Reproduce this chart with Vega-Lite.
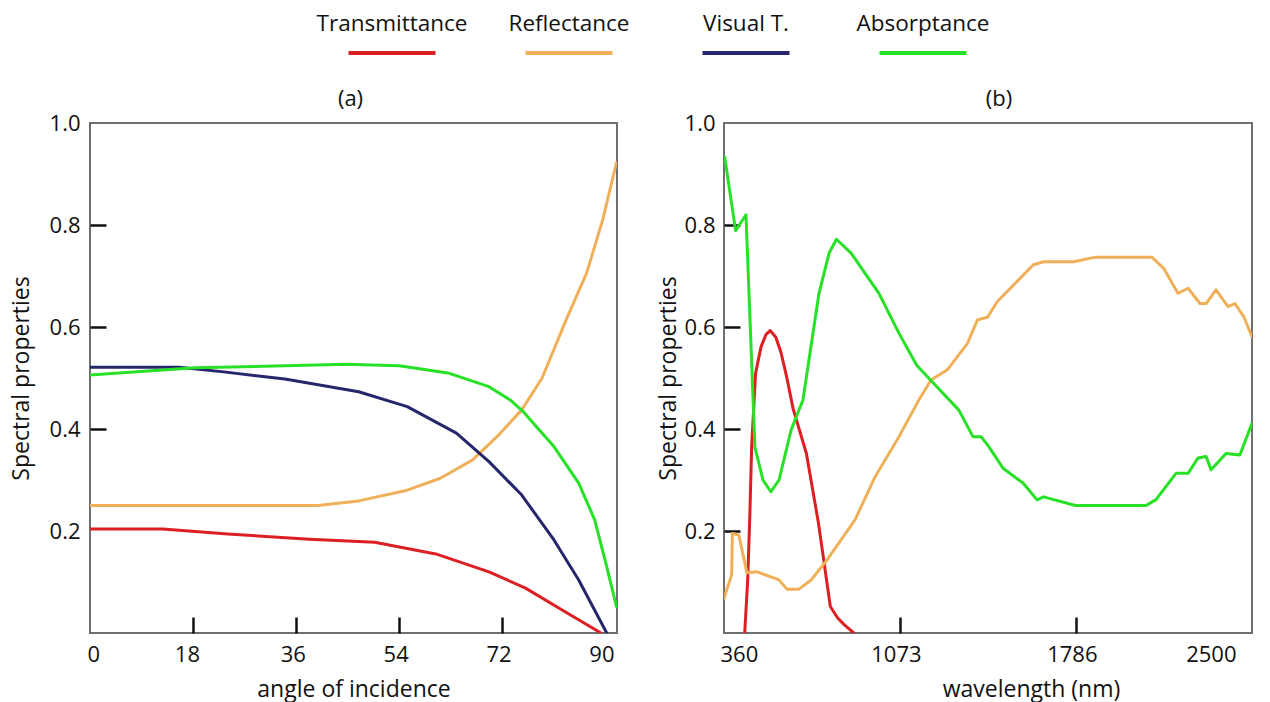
{
  "$schema": "https://vega.github.io/schema/vega-lite/v6.json",
  "background": "white",
  "padding": {"left": 9, "top": 5, "right": 0, "bottom": 0},
  "config": {
    "font": "Open Sans",
    "view": {"stroke": "#6f6f6f", "strokeWidth": 2},
    "axis": {
      "domain": false,
      "grid": false,
      "zindex": 1,
      "labelFont": "Open Sans",
      "labelFontSize": 22,
      "labelColor": "#111111",
      "titleFont": "Open Sans",
      "titleFontSize": 23,
      "titleFontWeight": "normal",
      "titleColor": "#111111"
    },
    "title": {"font": "Open Sans", "fontSize": 22, "fontWeight": "normal", "color": "#111111"},
    "line": {"strokeWidth": 3, "strokeJoin": "round", "strokeCap": "round"}
  },
  "datasets": {
    "series": [
      {"series": "Transmittance"},
      {"series": "Reflectance"},
      {"series": "Visual T."},
      {"series": "Absorptance"}
    ],
    "angle": [
      {"series": "Transmittance", "angle": 0, "value": 0.204},
      {"series": "Transmittance", "angle": 12.7, "value": 0.204},
      {"series": "Transmittance", "angle": 24.1, "value": 0.194},
      {"series": "Transmittance", "angle": 38.4, "value": 0.184},
      {"series": "Transmittance", "angle": 49.8, "value": 0.178},
      {"series": "Transmittance", "angle": 60.5, "value": 0.155},
      {"series": "Transmittance", "angle": 69.8, "value": 0.12},
      {"series": "Transmittance", "angle": 76.2, "value": 0.088},
      {"series": "Transmittance", "angle": 82.6, "value": 0.045},
      {"series": "Transmittance", "angle": 89.4, "value": 0.0},
      {"series": "Reflectance", "angle": 0, "value": 0.25},
      {"series": "Reflectance", "angle": 39.8, "value": 0.25},
      {"series": "Reflectance", "angle": 47, "value": 0.259},
      {"series": "Reflectance", "angle": 55.5, "value": 0.28},
      {"series": "Reflectance", "angle": 61.2, "value": 0.303},
      {"series": "Reflectance", "angle": 66.9, "value": 0.339},
      {"series": "Reflectance", "angle": 71.2, "value": 0.385},
      {"series": "Reflectance", "angle": 75.5, "value": 0.437},
      {"series": "Reflectance", "angle": 79.1, "value": 0.5},
      {"series": "Reflectance", "angle": 83.3, "value": 0.614},
      {"series": "Reflectance", "angle": 86.9, "value": 0.706},
      {"series": "Reflectance", "angle": 89.7, "value": 0.81},
      {"series": "Reflectance", "angle": 92.1, "value": 0.922},
      {"series": "Visual T.", "angle": 0, "value": 0.521},
      {"series": "Visual T.", "angle": 15.6, "value": 0.521},
      {"series": "Visual T.", "angle": 23.4, "value": 0.512},
      {"series": "Visual T.", "angle": 34.1, "value": 0.498},
      {"series": "Visual T.", "angle": 47, "value": 0.473},
      {"series": "Visual T.", "angle": 55.5, "value": 0.444},
      {"series": "Visual T.", "angle": 64.1, "value": 0.392},
      {"series": "Visual T.", "angle": 69.8, "value": 0.336},
      {"series": "Visual T.", "angle": 75.5, "value": 0.271},
      {"series": "Visual T.", "angle": 81.2, "value": 0.182},
      {"series": "Visual T.", "angle": 85.5, "value": 0.104},
      {"series": "Visual T.", "angle": 90.4, "value": 0.0},
      {"series": "Absorptance", "angle": 0, "value": 0.506},
      {"series": "Absorptance", "angle": 18.4, "value": 0.52},
      {"series": "Absorptance", "angle": 34.1, "value": 0.524},
      {"series": "Absorptance", "angle": 44.8, "value": 0.527},
      {"series": "Absorptance", "angle": 54.1, "value": 0.524},
      {"series": "Absorptance", "angle": 62.6, "value": 0.51},
      {"series": "Absorptance", "angle": 69.8, "value": 0.483},
      {"series": "Absorptance", "angle": 73.5, "value": 0.457},
      {"series": "Absorptance", "angle": 75.8, "value": 0.434},
      {"series": "Absorptance", "angle": 81.2, "value": 0.365},
      {"series": "Absorptance", "angle": 85.5, "value": 0.294},
      {"series": "Absorptance", "angle": 88.3, "value": 0.222},
      {"series": "Absorptance", "angle": 90.4, "value": 0.13},
      {"series": "Absorptance", "angle": 92.1, "value": 0.052}
    ],
    "wavelength": [
      {"series": "Transmittance", "wavelength": 444, "value": 0.0},
      {"series": "Transmittance", "wavelength": 456, "value": 0.104},
      {"series": "Transmittance", "wavelength": 465, "value": 0.235},
      {"series": "Transmittance", "wavelength": 472, "value": 0.365},
      {"series": "Transmittance", "wavelength": 488, "value": 0.509},
      {"series": "Transmittance", "wavelength": 510, "value": 0.561},
      {"series": "Transmittance", "wavelength": 530, "value": 0.585},
      {"series": "Transmittance", "wavelength": 547, "value": 0.593},
      {"series": "Transmittance", "wavelength": 570, "value": 0.58},
      {"series": "Transmittance", "wavelength": 591, "value": 0.55},
      {"series": "Transmittance", "wavelength": 615, "value": 0.5},
      {"series": "Transmittance", "wavelength": 640, "value": 0.44},
      {"series": "Transmittance", "wavelength": 694, "value": 0.352},
      {"series": "Transmittance", "wavelength": 743, "value": 0.215},
      {"series": "Transmittance", "wavelength": 791, "value": 0.052},
      {"series": "Transmittance", "wavelength": 820, "value": 0.03},
      {"series": "Transmittance", "wavelength": 848, "value": 0.016},
      {"series": "Transmittance", "wavelength": 886, "value": 0.0},
      {"series": "Reflectance", "wavelength": 360, "value": 0.068},
      {"series": "Reflectance", "wavelength": 391, "value": 0.114},
      {"series": "Reflectance", "wavelength": 394, "value": 0.195},
      {"series": "Reflectance", "wavelength": 420, "value": 0.192},
      {"series": "Reflectance", "wavelength": 453, "value": 0.118},
      {"series": "Reflectance", "wavelength": 494, "value": 0.12},
      {"series": "Reflectance", "wavelength": 583, "value": 0.104},
      {"series": "Reflectance", "wavelength": 615, "value": 0.086},
      {"series": "Reflectance", "wavelength": 664, "value": 0.086},
      {"series": "Reflectance", "wavelength": 713, "value": 0.104},
      {"series": "Reflectance", "wavelength": 777, "value": 0.143},
      {"series": "Reflectance", "wavelength": 891, "value": 0.222},
      {"series": "Reflectance", "wavelength": 972, "value": 0.306},
      {"series": "Reflectance", "wavelength": 1069, "value": 0.385},
      {"series": "Reflectance", "wavelength": 1150, "value": 0.457},
      {"series": "Reflectance", "wavelength": 1199, "value": 0.496},
      {"series": "Reflectance", "wavelength": 1265, "value": 0.516},
      {"series": "Reflectance", "wavelength": 1347, "value": 0.568},
      {"series": "Reflectance", "wavelength": 1387, "value": 0.614},
      {"series": "Reflectance", "wavelength": 1428, "value": 0.619},
      {"series": "Reflectance", "wavelength": 1468, "value": 0.65},
      {"series": "Reflectance", "wavelength": 1541, "value": 0.686},
      {"series": "Reflectance", "wavelength": 1614, "value": 0.722},
      {"series": "Reflectance", "wavelength": 1655, "value": 0.728},
      {"series": "Reflectance", "wavelength": 1777, "value": 0.728},
      {"series": "Reflectance", "wavelength": 1866, "value": 0.737},
      {"series": "Reflectance", "wavelength": 2094, "value": 0.737},
      {"series": "Reflectance", "wavelength": 2142, "value": 0.715},
      {"series": "Reflectance", "wavelength": 2200, "value": 0.666},
      {"series": "Reflectance", "wavelength": 2241, "value": 0.676},
      {"series": "Reflectance", "wavelength": 2289, "value": 0.646},
      {"series": "Reflectance", "wavelength": 2314, "value": 0.646},
      {"series": "Reflectance", "wavelength": 2354, "value": 0.673},
      {"series": "Reflectance", "wavelength": 2403, "value": 0.64},
      {"series": "Reflectance", "wavelength": 2431, "value": 0.646},
      {"series": "Reflectance", "wavelength": 2467, "value": 0.62},
      {"series": "Reflectance", "wavelength": 2500, "value": 0.581},
      {"series": "Absorptance", "wavelength": 363, "value": 0.933},
      {"series": "Absorptance", "wavelength": 407, "value": 0.789},
      {"series": "Absorptance", "wavelength": 449, "value": 0.82},
      {"series": "Absorptance", "wavelength": 478, "value": 0.457},
      {"series": "Absorptance", "wavelength": 485, "value": 0.365},
      {"series": "Absorptance", "wavelength": 518, "value": 0.3},
      {"series": "Absorptance", "wavelength": 550, "value": 0.277},
      {"series": "Absorptance", "wavelength": 583, "value": 0.3},
      {"series": "Absorptance", "wavelength": 632, "value": 0.398},
      {"series": "Absorptance", "wavelength": 680, "value": 0.457},
      {"series": "Absorptance", "wavelength": 745, "value": 0.666},
      {"series": "Absorptance", "wavelength": 786, "value": 0.745},
      {"series": "Absorptance", "wavelength": 816, "value": 0.772},
      {"series": "Absorptance", "wavelength": 875, "value": 0.745},
      {"series": "Absorptance", "wavelength": 988, "value": 0.666},
      {"series": "Absorptance", "wavelength": 1069, "value": 0.588},
      {"series": "Absorptance", "wavelength": 1141, "value": 0.525},
      {"series": "Absorptance", "wavelength": 1197, "value": 0.496},
      {"series": "Absorptance", "wavelength": 1312, "value": 0.437},
      {"series": "Absorptance", "wavelength": 1369, "value": 0.385},
      {"series": "Absorptance", "wavelength": 1402, "value": 0.385},
      {"series": "Absorptance", "wavelength": 1434, "value": 0.365},
      {"series": "Absorptance", "wavelength": 1491, "value": 0.323},
      {"series": "Absorptance", "wavelength": 1572, "value": 0.294},
      {"series": "Absorptance", "wavelength": 1629, "value": 0.261},
      {"series": "Absorptance", "wavelength": 1655, "value": 0.267},
      {"series": "Absorptance", "wavelength": 1785, "value": 0.25},
      {"series": "Absorptance", "wavelength": 2070, "value": 0.25},
      {"series": "Absorptance", "wavelength": 2110, "value": 0.261},
      {"series": "Absorptance", "wavelength": 2192, "value": 0.313},
      {"series": "Absorptance", "wavelength": 2241, "value": 0.313},
      {"series": "Absorptance", "wavelength": 2281, "value": 0.343},
      {"series": "Absorptance", "wavelength": 2314, "value": 0.346},
      {"series": "Absorptance", "wavelength": 2334, "value": 0.32},
      {"series": "Absorptance", "wavelength": 2395, "value": 0.352},
      {"series": "Absorptance", "wavelength": 2451, "value": 0.349},
      {"series": "Absorptance", "wavelength": 2500, "value": 0.411}
    ]
  },
  "vconcat": [
    {
      "width": 1000,
      "height": 60,
      "view": {"stroke": null},
      "data": {"name": "series"},
      "encoding": {
        "x": {
          "field": "series",
          "type": "nominal",
          "sort": null,
          "scale": {"type": "point", "padding": 0, "range": [302, 833]},
          "axis": null
        }
      },
      "layer": [
        {
          "mark": {"type": "text", "fontSize": 22.5, "font": "Open Sans", "color": "#111111", "baseline": "middle", "yOffset": -11},
          "encoding": {"text": {"field": "series"}}
        },
        {
          "mark": {"type": "tick", "orient": "horizontal", "size": 87, "thickness": 4, "yOffset": 18, "opacity": 1},
          "encoding": {
            "color": {
              "field": "series",
              "type": "nominal",
              "scale": {
                "domain": ["Transmittance", "Reflectance", "Visual T.", "Absorptance"],
                "range": ["#dc1f22", "#f0b05a", "#25266b", "#27e127"]
              },
              "legend": null
            }
          }
        }
      ]
    },
    {
      "spacing": 38,
      "hconcat": [
        {
          "width": 527,
          "height": 510,
          "title": {"text": "(a)", "offset": 1, "dx": -3},
          "data": {"name": "angle"},
          "mark": {"type": "line", "clip": true},
          "encoding": {
            "x": {
              "field": "angle",
              "type": "quantitative",
              "scale": {"domain": [0, 92.2], "nice": false, "zero": false},
              "axis": {
                "values": [0, 18, 36, 54, 72, 90],
                "title": "angle of incidence",
                "tickSize": -16,
                "tickColor": "#111111",
                "tickWidth": 2.5,
                "tickOpacity": {"condition": {"test": "datum.value == 0 || datum.value == 90", "value": 0}, "value": 1},
                "labelPadding": 27,
                "titlePadding": 13,
                "labelOffset": {"condition": {"test": "datum.value == 18", "value": -6}, "value": -3}
              }
            },
            "y": {
              "field": "value",
              "type": "quantitative",
              "scale": {"domain": [0, 1], "nice": false},
              "axis": {
                "values": [0.2, 0.4, 0.6, 0.8, 1.0],
                "format": ".1f",
                "title": "Spectral properties",
                "tickSize": -16,
                "tickColor": "#111111",
                "tickWidth": 2.5,
                "tickOpacity": {"condition": {"test": "datum.value < 0.3 || datum.value > 0.9", "value": 0}, "value": 1},
                "labelPadding": 26,
                "titlePadding": 16
              }
            },
            "color": {"field": "series", "type": "nominal", "legend": null}
          }
        },
        {
          "width": 528,
          "height": 510,
          "title": {"text": "(b)", "offset": 1, "dx": 11},
          "data": {"name": "wavelength"},
          "mark": {"type": "line", "clip": true},
          "encoding": {
            "x": {
              "field": "wavelength",
              "type": "quantitative",
              "scale": {"domain": [360, 2500], "nice": false, "zero": false},
              "axis": {
                "values": [360, 1073, 1786, 2500],
                "format": "d",
                "title": "wavelength (nm)",
                "titleX": 307,
                "tickSize": -16,
                "tickColor": "#111111",
                "tickWidth": 2.5,
                "tickOpacity": {"condition": {"test": "datum.value == 360 || datum.value == 2500", "value": 0}, "value": 1},
                "labelPadding": 27,
                "titlePadding": 13,
                "labelOffset": {"condition": {"test": "datum.value == 2500", "value": -16}, "value": -4}
              }
            },
            "y": {
              "field": "value",
              "type": "quantitative",
              "scale": {"domain": [0, 1], "nice": false},
              "axis": {
                "values": [0.2, 0.4, 0.6, 0.8, 1.0],
                "format": ".1f",
                "title": "Spectral properties",
                "tickSize": -16,
                "tickColor": "#111111",
                "tickWidth": 2.5,
                "tickOpacity": {"condition": {"test": "datum.value > 0.9", "value": 0}, "value": 1},
                "labelPadding": 25,
                "titlePadding": 4
              }
            },
            "color": {"field": "series", "type": "nominal", "legend": null}
          }
        }
      ]
    }
  ],
  "spacing": 22
}
